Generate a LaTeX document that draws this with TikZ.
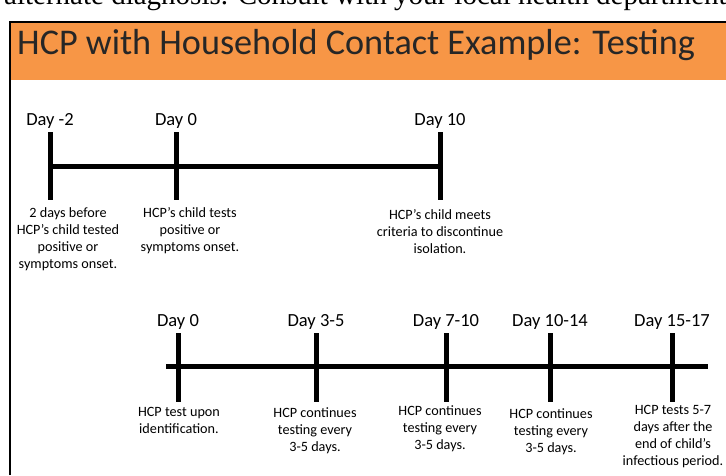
\documentclass[tikz,border=0pt]{standalone}
\usepackage{fontspec}
\setmainfont{Carlito}
\newfontfamily\serifcut{Liberation Serif}
\usetikzlibrary{positioning}

\definecolor{slideorange}{HTML}{F79646}
\definecolor{titlegray}{HTML}{262626}

\tikzset{
  day/.style={font=\fontsize{18.5}{20}\selectfont, anchor=base, inner sep=0pt},
  note/.style={font=\fontsize{14.2}{17}\selectfont, align=center, anchor=north, inner sep=0pt},
  tick/.style={line width=5pt},
  axis/.style={line width=5pt},
}

\begin{document}
\begin{tikzpicture}[x=1pt, y=-1pt]

\useasboundingbox (0,0) rectangle (726,475);

% line of running text above the slide, cut off by the page edge
\begin{scope}
\clip (0,0) rectangle (726,21);
\node[anchor=base west, inner sep=0pt, font=\serifcut\fontsize{29}{30}\selectfont] (cuttext) at (4,4) {alternate diagnosis. Consult with your local health department};
\end{scope}

% slide frame and title bar
\fill[slideorange] (11,23) rectangle (726,80);
\draw[line width=2pt] (10,475) -- (10,22) -- (726,22);
\node[anchor=base west, inner sep=0pt, text=titlegray, font=\fontsize{36.2}{40}\selectfont] (title) at (17,54) {HCP with Household Contact Example: Testing};

% first timeline: the child
\coordinate (top1) at (0,132);
\coordinate (mid1) at (0,166);
\coordinate (bot1) at (0,200);

\node[day] (cm2) at (50,125) {Day -2};
\node[day] (c0) at (176,125) {Day 0};
\node[day] (c10) at (440,125) {Day 10};

\draw[axis] (cm2 |- mid1) -- (c10 |- mid1);
\draw[tick] (cm2 |- top1) -- (cm2 |- bot1);
\draw[tick] (c0 |- top1) -- (c0 |- bot1);
\draw[tick] (c10 |- top1) -- (c10 |- bot1);

\node[note] (cnote1) at (68,207) {2 days before\\HCP’s child tested\\positive or\\symptoms onset.};
\node[note] (cnote2) at (190,207) {HCP’s child tests\\positive or\\symptoms onset.};
\node[note] (cnote3) at (440,209) {HCP’s child meets\\criteria to discontinue\\isolation.};

% second timeline: testing the HCP
\coordinate (top2) at (0,333);
\coordinate (start2) at (166,366);
\coordinate (end2) at (708,366);
\coordinate (bot2) at (0,402);

\node[day] (h0) at (178,326) {Day 0};
\node[day] (h3) at (316,326) {Day 3-5};
\node[day] (h7) at (446,326) {Day 7-10};
\node[day] (h10) at (550,326) {Day 10-14};
\node[day] (h15) at (672,326) {Day 15-17};

\draw[axis] (start2) -- (end2);
\draw[tick] (h0 |- top2) -- (h0 |- bot2);
\draw[tick] (h3 |- top2) -- (h3 |- bot2);
\draw[tick] (h7 |- top2) -- (h7 |- bot2);
\draw[tick] (h10 |- top2) -- (h10 |- bot2);
\draw[tick] (h15 |- top2) -- (h15 |- bot2);

\node[note] (hnote1) at (179,407) {HCP test upon\\identification.};
\node[note] (hnote2) at (315,407) {HCP continues\\testing every\\3-5 days.};
\node[note] (hnote3) at (440,405) {HCP continues\\testing every\\3-5 days.};
\node[note] (hnote4) at (551,408) {HCP continues\\testing every\\3-5 days.};
\node[note] (hnote5) at (673,405) {HCP tests 5-7\\days after the\\end of child’s\\infectious period.};

\end{tikzpicture}
\end{document}
